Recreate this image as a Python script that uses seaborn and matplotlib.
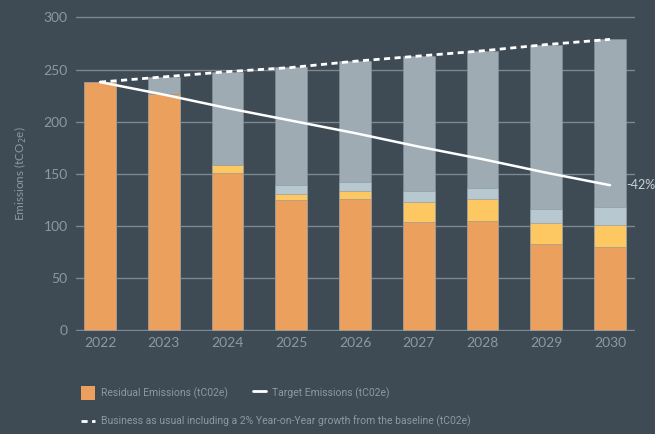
import numpy as np
import pandas as pd
import matplotlib as mpl
import matplotlib.pyplot as plt
from matplotlib.lines import Line2D
from matplotlib.patches import Patch
import seaborn as sns

sns.set_style("dark")
plt.rcParams['font.family'] = ['Lato', 'DejaVu Sans']

# values (tCO2e)
years = ["2022", "2023", "2024", "2025", "2026", "2027", "2028", "2029", "2030"]
residual = [238, 227, 151, 125, 126, 104, 105, 83, 80]
yellow_part = [0, 0, 7, 6, 7, 19, 21, 20, 21]
lightblue_part = [0, 0, 0, 8, 9, 10, 10, 13, 17]
bau = [238, 243, 248, 252, 258, 263, 268, 274, 279]
target = [238, 226, 213, 201, 189, 176, 164, 151, 139]

bg = "#3e4b55"
grid_col = "#7b8891"
txt_col = "#8d99a1"
c_orange = "#eba15d"
c_yellow = "#fdc862"
c_lblue = "#b8c8d0"
c_grey = "#9eabb3"

df = pd.DataFrame({"year": years, "residual": residual,
                   "yellow": yellow_part, "lblue": lightblue_part, "bau": bau})
df["top_yellow"] = df["residual"] + df["yellow"]
df["top_lblue"] = df["top_yellow"] + df["lblue"]

fig = plt.figure(figsize=(6.55, 4.34), dpi=100, facecolor=bg)
pu = 313.0 / 300
ax = fig.add_axes([76 / 655, 1 - (331.0) / 434, 559 / 655, (331.0 - 16.0) / 434])
ax.set_facecolor(bg)

# stacked bars drawn back to front
for col, c in [("bau", c_grey), ("top_lblue", c_lblue), ("top_yellow", c_yellow), ("residual", c_orange)]:
    sns.barplot(data=df, x="year", y=col, color=c, saturation=1, width=0.5, ax=ax,
                edgecolor="#8594a0", linewidth=0.4)

xs = np.arange(len(years))
sns.lineplot(x=xs, y=target, color="white", lw=1.8, ax=ax)
ax.plot(xs, bau, color="white", lw=2, dashes=(2.2, 1.6))

ax.annotate("-42%", xy=(xs[-1], target[-1]), xytext=(16, 0), textcoords="offset pixels",
            color="#c9d1d6", fontsize=9, va="center", ha="left", annotation_clip=False)

ax.set_xlim(-24 / 63.75, (635 - 100) / 63.75)
ax.set_ylim(-1 / pu, 300 + 1.5 / pu)
ax.set_yticks(range(0, 301, 50))
ax.grid(axis="y", color=grid_col, lw=1)
ax.set_axisbelow(True)
for s in ax.spines.values():
    s.set_visible(False)
ax.tick_params(axis="both", length=0, colors=txt_col, labelsize=10)
ax.tick_params(axis="y", pad=6)
ax.tick_params(axis="x", pad=4)
ax.set_xlabel("")
ax.set_ylabel("Emissions (tCO$_2$e)", color=txt_col, fontsize=8.5)
ax.yaxis.set_label_coords((29 - 76) / 559, 0.5)

leg_font = ['Roboto', 'DejaVu Sans']
h1 = [Patch(facecolor=c_orange, edgecolor="none"),
      Line2D([], [], color="white", lw=2)]
l1 = ["Residual Emissions (tC02e)", "Target Emissions (tC02e)"]
leg1 = fig.legend(h1, l1, loc="center left", bbox_to_anchor=(81 / 655, 1 - 393 / 434), ncol=2,
                  frameon=False, borderpad=0, borderaxespad=0, handlelength=1.3, handleheight=1.6,
                  handletextpad=0.6, columnspacing=2.4,
                  prop={"family": leg_font, "size": 7.5})
for t in leg1.get_texts():
    t.set_color(txt_col)
h2 = [Line2D([], [], color="white", lw=2, dashes=(2.2, 1.6))]
l2 = ["Business as usual including a 2% Year-on-Year growth from the baseline (tC02e)"]
leg2 = fig.legend(h2, l2, loc="center left", bbox_to_anchor=(81 / 655, 1 - 421 / 434),
                  frameon=False, borderpad=0, borderaxespad=0, handlelength=1.3,
                  handletextpad=0.6, prop={"family": leg_font, "size": 7.5})
for t in leg2.get_texts():
    t.set_color(txt_col)

fig.savefig("out.png", dpi=100, facecolor=bg)
